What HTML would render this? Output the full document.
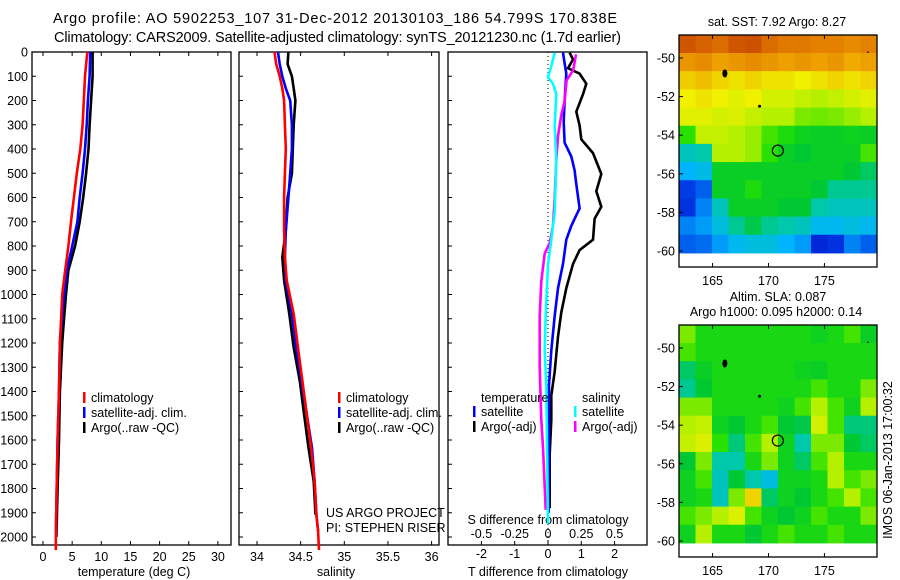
<!DOCTYPE html>
<html><head><meta charset="utf-8"><style>
html,body{margin:0;padding:0;background:#fff;}
svg{display:block;font-family:"Liberation Sans",sans-serif;}
</style></head><body>
<svg id="fig" width="900" height="580" viewBox="0 0 900 580" xmlns="http://www.w3.org/2000/svg">
<text x="53" y="23" font-size="14.5" textLength="564" lengthAdjust="spacing">Argo profile: AO 5902253_107 31-Dec-2012 20130103_186 54.799S 170.838E</text>
<text x="54" y="42" font-size="14.5" textLength="567" lengthAdjust="spacing">Climatology: CARS2009. Satellite-adjusted climatology: synTS_20121230.nc (1.7d earlier)</text>
<g id="p1"></g>
<g id="p2"></g>
<g id="p3"></g>
<g id="m1"></g>
<g id="m2"></g>
<text transform="translate(892,460) rotate(-90)" font-size="12.5" text-anchor="middle">IMOS 06-Jan-2013 17:00:32</text>
</svg>
<script>
// ---- data ----
const tDepth = [0,100,200,300,400,500,600,700,800,900,1000,1100,1200,1400,1600,1800,2000,2054];
const tClim  = [7.6,7.2,7.0,6.8,6.4,5.8,5.3,4.8,4.35,3.8,3.3,3.1,2.9,2.75,2.5,2.35,2.2,2.2];
const tSat   = [8.1,8.0,7.7,7.5,7.2,6.8,6.3,5.9,5.0,4.1,3.6,3.25,2.9,2.75,2.5,2.35,2.2];
const tArgo  = [8.5,8.5,8.25,8.0,7.8,7.4,6.9,6.3,5.5,4.35,3.95,3.6,3.3,2.9,2.75,2.5,2.3];
const sDepth = [0,50,100,150,200,300,400,500,600,736,846,942,1080,1219,1357,1495,1632,1770,1908,1977,2054];
const sClim  = [34.2,34.22,34.26,34.29,34.31,34.32,34.33,34.32,34.31,34.31,34.32,34.34,34.42,34.47,34.52,34.57,34.62,34.66,34.68,34.7,34.71];
const sSat   = [34.24,34.26,34.29,34.33,34.38,34.4,34.4,34.38,34.36,34.33,34.32,34.33,34.4,34.45,34.51,34.57,34.63,34.66,34.68,34.7];
const sArgo  = [34.36,34.35,34.4,34.42,34.44,34.42,34.41,34.4,34.35,34.33,34.29,34.31,34.37,34.42,34.49,34.54,34.59,34.65,34.67];
const dTArgoDepth = [3,31,67,89,131,174,246,303,360,417,503,574,638,688,774,817,874,974,1074,1174,1317,1417,1517,1659,1881];
const dTArgo = [0.65,0.75,0.6,0.95,1.15,1.05,0.85,0.95,1.0,1.35,1.6,1.45,1.6,1.4,1.35,0.95,0.75,0.55,0.4,0.3,0.2,0.1,0.1,0.05,0.05];
const dTSatDepth = [3,46,89,203,288,374,431,488,545,645,688,717,774,874,974,1088,1231,1374,1900];
const dTSat = [0.45,0.5,0.55,0.5,0.47,0.5,0.7,0.8,0.85,0.95,0.8,0.7,0.55,0.45,0.3,0.2,0.1,0.03,0.02];
const dSSatDepth = [3,60,103,131,174,303,446,660,774,874,1088,1231,1374,1945];
const dSSat = [0.05,0.025,0,0.0375,0.0625,0.05,0.0625,0.05,0.025,0,-0.0175,-0.025,-0.0125,0];
const dSArgoDepth = [10,74,117,203,260,346,446,603,717,788,831,946,1088,1302,1517,1631,1888];
const dSArgo = [0.21,0.19,0.14,0.125,0.1,0.075,0.0625,0.05,0.0375,0.0125,-0.025,-0.05,-0.0625,-0.0625,-0.05,-0.0375,-0.0175];
const depthTicks = [0,100,200,300,400,500,600,700,800,900,1000,1100,1200,1300,1400,1500,1600,1700,1800,1900,2000];
const tTicks = [0,5,10,15,20,25,30];
const sTicks = [34,34.5,35,35.5,36];
const sTickLabels = ["34","34.5","35","35.5","36"];
const dTTicks = [-2,-1,0,1,2];
const dSTicks = [-0.5,-0.25,0,0.25,0.5];
const dSTickLabels = ["-0.5","-0.25","0","0.25","0.5"];
const latTicks = [-50,-52,-54,-56,-58,-60];
const lonTicks = [165,170,175];
const sstGrid = [
[0.94,0.92,0.9,0.94,0.95,0.9,0.88,0.88,0.86,0.86,0.84,0.86],
[0.82,0.84,0.8,0.82,0.84,0.82,0.8,0.82,0.8,0.82,0.78,0.8],
[0.73,0.75,0.72,0.7,0.72,0.7,0.7,0.68,0.7,0.72,0.7,0.72],
[0.68,0.7,0.68,0.66,0.68,0.64,0.64,0.62,0.6,0.62,0.64,0.66],
[0.66,0.66,0.64,0.65,0.62,0.6,0.6,0.56,0.55,0.56,0.58,0.6],
[0.5,0.62,0.62,0.6,0.58,0.52,0.48,0.45,0.44,0.44,0.45,0.44],
[0.3,0.32,0.6,0.6,0.58,0.5,0.44,0.42,0.44,0.44,0.44,0.52],
[0.22,0.25,0.44,0.44,0.44,0.44,0.44,0.44,0.44,0.44,0.42,0.38],
[0.12,0.15,0.44,0.44,0.48,0.44,0.44,0.44,0.42,0.34,0.34,0.34],
[0.1,0.18,0.3,0.44,0.44,0.44,0.42,0.42,0.32,0.3,0.3,0.3],
[0.18,0.2,0.26,0.34,0.4,0.34,0.32,0.3,0.24,0.24,0.26,0.24],
[0.15,0.16,0.2,0.24,0.26,0.26,0.22,0.2,0.08,0.1,0.18,0.15]];
const slaGrid = [
[0.56,0.47,0.47,0.47,0.47,0.47,0.47,0.47,0.45,0.47,0.52,0.44],
[0.52,0.47,0.47,0.47,0.47,0.47,0.47,0.47,0.47,0.47,0.47,0.47],
[0.38,0.44,0.47,0.47,0.47,0.47,0.47,0.45,0.44,0.47,0.47,0.47],
[0.34,0.42,0.47,0.47,0.47,0.47,0.47,0.47,0.52,0.47,0.47,0.56],
[0.56,0.56,0.47,0.47,0.47,0.47,0.45,0.52,0.6,0.52,0.45,0.6],
[0.6,0.62,0.45,0.42,0.47,0.52,0.42,0.4,0.64,0.52,0.36,0.36],
[0.62,0.65,0.5,0.36,0.52,0.6,0.45,0.32,0.56,0.56,0.42,0.38],
[0.42,0.56,0.32,0.32,0.47,0.56,0.45,0.38,0.52,0.6,0.47,0.47],
[0.45,0.52,0.3,0.42,0.32,0.26,0.45,0.45,0.47,0.6,0.52,0.56],
[0.45,0.47,0.3,0.56,0.72,0.38,0.45,0.42,0.47,0.52,0.6,0.52],
[0.52,0.56,0.6,0.65,0.52,0.45,0.42,0.45,0.52,0.47,0.47,0.56],
[0.45,0.6,0.47,0.47,0.42,0.47,0.52,0.47,0.47,0.52,0.47,0.47]];
const argoLon = 170.838, argoLat = -54.799;

// ---- helpers ----
const NS='http://www.w3.org/2000/svg';
function mk(parent,tag,attrs,txt){const e=document.createElementNS(NS,tag);for(const k in attrs)e.setAttribute(k,attrs[k]);if(txt!==undefined)e.textContent=txt;parent.appendChild(e);return e;}
const TOP=52, BOT=545, DPX=0.2425;
const yD = d => TOP + d*DPX;
function frame(g,x0,x1,y0,y1){mk(g,'rect',{x:x0,y:y0,width:x1-x0,height:y1-y0,fill:'none',stroke:'#000','stroke-width':1.3});}
function line(g,xs,ds,xf,color,name){
  let pts=xs.map((v,i)=>xf(v).toFixed(1)+','+yD(ds[i]).toFixed(1)).join(' ');
  const p=mk(g,'polyline',{points:pts,fill:'none',stroke:color,'stroke-width':2.6,'stroke-linejoin':'miter'});
  
  
}
function yTicks(g,x0,x1,labels){
  depthTicks.forEach(d=>{
    mk(g,'line',{x1:x0,x2:x0+4,y1:yD(d),y2:yD(d),stroke:'#000'});
    if(labels){const t=mk(g,'text',{x:x0-4,y:yD(d)+4.5,'font-size':12.5,'text-anchor':'end'},String(d));
      
      }
  });
}
function legend(g,x,y,items){
  items.forEach((it,i)=>{
    mk(g,'rect',{x:x,y:y+i*15-10,width:2.5,height:11,fill:it[0]});
    const t=mk(g,'text',{x:x+8,y:y+i*15,'font-size':12.5},it[1]);
    
    
  });
}

// ---- panel 1: temperature ----
const p1=document.getElementById('p1');
const xT = v => 43 + v*5.83;
frame(p1,32,231,TOP,BOT); yTicks(p1,32,231,true);
tTicks.forEach(v=>{mk(p1,'line',{x1:xT(v),x2:xT(v),y1:BOT,y2:BOT-4,stroke:'#000'});mk(p1,'line',{x1:xT(v),x2:xT(v),y1:TOP,y2:TOP+4,stroke:'#000'});
  const t=mk(p1,'text',{x:xT(v),y:561,'font-size':12.5,'text-anchor':'middle'},String(v));
  
  });
mk(p1,'text',{x:134,y:576,'font-size':12.5,'text-anchor':'middle'},'temperature (deg C)');
line(p1,tArgo,tDepth,xT,'#000','argo-temperature-line');
line(p1,tSat,tDepth,xT,'#0000ff','satellite-temperature-line');
line(p1,tClim,tDepth,xT,'#ff0000','climatology-temperature-line');
legend(p1,83,402,[['#f00','climatology'],['#00f','satellite-adj. clim.'],['#000','Argo(..raw -QC)']]);

// ---- panel 2: salinity ----
const p2=document.getElementById('p2');
const xS = v => 257 + (v-34)*87.3;
frame(p2,239,439,TOP,BOT); yTicks(p2,239,439,false);
sTicks.forEach((v,i)=>{mk(p2,'line',{x1:xS(v),x2:xS(v),y1:BOT,y2:BOT-4,stroke:'#000'});mk(p2,'line',{x1:xS(v),x2:xS(v),y1:TOP,y2:TOP+4,stroke:'#000'});
  const t=mk(p2,'text',{x:xS(v),y:561,'font-size':12.5,'text-anchor':'middle'},sTickLabels[i]);
  
  });
mk(p2,'text',{x:336,y:576,'font-size':12.5,'text-anchor':'middle'},'salinity');
line(p2,sArgo,sDepth,xS,'#000','argo-salinity-line');
line(p2,sSat,sDepth,xS,'#0000ff','satellite-salinity-line');
line(p2,sClim,sDepth,xS,'#ff0000','climatology-salinity-line');
legend(p2,338,402,[['#f00','climatology'],['#00f','satellite-adj. clim.'],['#000','Argo(..raw -QC)']]);
mk(p2,'text',{x:326,y:517,'font-size':12.5},'US ARGO PROJECT');
mk(p2,'text',{x:326,y:532,'font-size':12.5},'PI: STEPHEN RISER');

// ---- panel 3: differences ----
const p3=document.getElementById('p3');
const xDT = v => 548 + v*33.3;
const xDS = v => 548 + v*4*33.3;
frame(p3,448,647,TOP,BOT); yTicks(p3,448,647,false);
mk(p3,'line',{x1:548,x2:548,y1:TOP,y2:BOT,stroke:'#000','stroke-dasharray':'1,3'});
dTTicks.forEach(v=>{mk(p3,'line',{x1:xDT(v),x2:xDT(v),y1:BOT,y2:BOT-4,stroke:'#000'});
  const t=mk(p3,'text',{x:xDT(v),y:558,'font-size':12.5,'text-anchor':'middle'},String(v));
  
  });
dSTicks.forEach((v,i)=>{const t=mk(p3,'text',{x:xDS(v),y:538,'font-size':12.5,'text-anchor':'middle'},dSTickLabels[i]);
  
  });
mk(p3,'text',{x:548,y:524,'font-size':12.5,'text-anchor':'middle'},'S difference from climatology');
mk(p3,'text',{x:548,y:576,'font-size':12.5,'text-anchor':'middle'},'T difference from climatology');
line(p3,dTArgo,dTArgoDepth,xDT,'#000','t-argo-diff-line');
line(p3,dTSat,dTSatDepth,xDT,'#0000ff','t-satellite-diff-line');
line(p3,dSArgo,dSArgoDepth,xDS,'#ff00ff','s-argo-diff-line');
line(p3,dSSat,dSSatDepth,xDS,'#00ffff','s-satellite-diff-line');
mk(p3,'text',{x:481,y:402,'font-size':12.5},'temperature');
legend(p3,473,416,[['#00f','satellite'],['#000','Argo(-adj)']]);
mk(p3,'text',{x:582,y:402,'font-size':12.5},'salinity');
legend(p3,574,416,[['#0ff','satellite'],['#f0f','Argo(-adj)']]);

// ---- maps ----
const cmapStops=[[0,[0,0,190]],[0.12,[0,60,230]],[0.22,[0,180,255]],[0.32,[0,200,170]],[0.42,[0,200,50]],[0.5,[40,225,0]],[0.6,[180,240,0]],[0.68,[240,240,0]],[0.78,[240,170,0]],[0.88,[225,120,0]],[1,[190,50,0]]];
function cmap(v){for(let i=1;i<cmapStops.length;i++){if(v<=cmapStops[i][0]){const a=cmapStops[i-1],b=cmapStops[i];const f=(v-a[0])/(b[0]-a[0]);const c=a[1].map((x,k)=>Math.round(x+(b[1][k]-x)*f));return 'rgb('+c.join(',')+')';}}return 'rgb(190,50,0)';}
function drawMap(g,top,grid,name){
  const lon0=162, lon1=179.7, x0=679, x1=877;
  const xL = lon => x0 + (lon-lon0)*(x1-x0)/(lon1-lon0);
  const yL = lat => top+23 + (-50-lat)*19.3;
  const rows=grid.length, cols=grid[0].length;
  const latTop=-48.8, latBot=-60.1;
  grid.forEach((row,r)=>row.forEach((v,c)=>{
    const la0=latTop+(latBot-latTop)*r/rows, la1=latTop+(latBot-latTop)*(r+1)/rows;
    const lo0=lon0+(lon1-lon0)*c/cols, lo1=lon0+(lon1-lon0)*(c+1)/cols;
    const e=mk(g,'rect',{x:xL(lo0),y:yL(la0),width:xL(lo1)-xL(lo0)+0.5,height:yL(la1)-yL(la0)+0.5,fill:cmap(v)});
    
    
  }));
  mk(g,'rect',{x:x0,y:top,width:x1-x0,height:232,fill:'none',stroke:'#000','stroke-width':1.3});
  latTicks.forEach(l=>{mk(g,'line',{x1:x0,x2:x0+4,y1:yL(l),y2:yL(l),stroke:'#000'});
    const t=mk(g,'text',{x:x0-4,y:yL(l)+4.5,'font-size':12.5,'text-anchor':'end'},String(l));
    
    });
  lonTicks.forEach(l=>{mk(g,'line',{x1:xL(l),x2:xL(l),y1:top,y2:top+4,stroke:'#000'});mk(g,'line',{x1:xL(l),x2:xL(l),y1:top+232,y2:top+228,stroke:'#000'});
    const t=mk(g,'text',{x:xL(l),y:top+250,'font-size':12.5,'text-anchor':'middle'},String(l));
    
    });
  mk(g,'ellipse',{cx:xL(166.1),cy:yL(-50.8),rx:2.5,ry:4,fill:'#000'});
  mk(g,'circle',{cx:xL(169.2),cy:yL(-52.5),r:1.5,fill:'#000'});
  mk(g,'circle',{cx:xL(178.9),cy:yL(-49.7),r:0.8,fill:'#000'});
  const c=mk(g,'circle',{cx:xL(argoLon),cy:yL(argoLat),r:5.5,fill:'none',stroke:'#000','stroke-width':1.2});
  
  
}
const m1=document.getElementById('m1'), m2=document.getElementById('m2');
drawMap(m1,35,sstGrid,'sst');
mk(m1,'text',{x:777,y:26,'font-size':12.5,'text-anchor':'middle'},'sat. SST: 7.92 Argo: 8.27');
drawMap(m2,325,slaGrid,'sla');
mk(m2,'text',{x:778,y:301,'font-size':12.5,'text-anchor':'middle'},'Altim. SLA: 0.087');
mk(m2,'text',{x:776,y:316,'font-size':12.5,'text-anchor':'middle'},'Argo h1000: 0.095 h2000: 0.14');
</script>
</body></html>
